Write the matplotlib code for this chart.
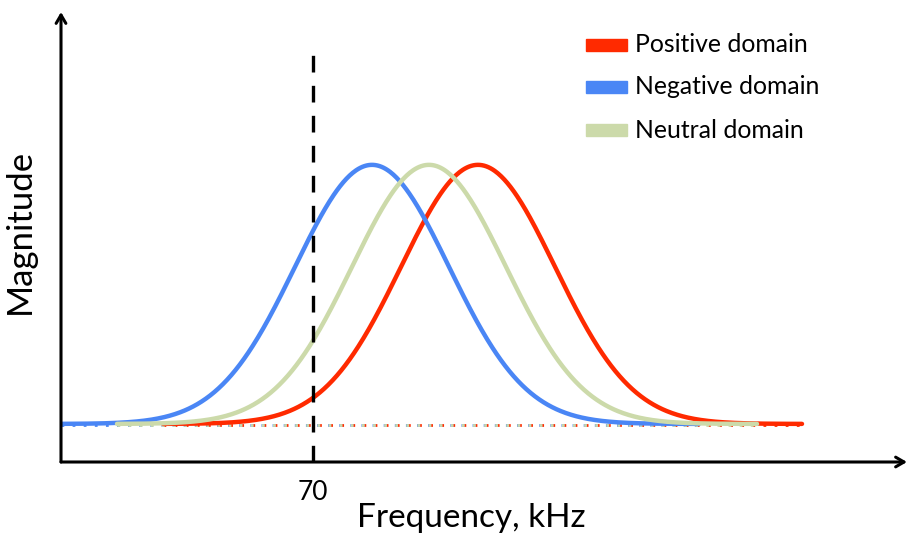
import numpy as np
import matplotlib
matplotlib.use("Agg")
import matplotlib.pyplot as plt
from matplotlib.patches import Rectangle

# Domain response curves: Gaussian shapes given by centre frequency and width (kHz)
domains = ["Positive domain", "Negative domain", "Neutral domain"]
colors = ["#FF2A00", "#4A86F5", "#CCDAAA"]
centers = [78.25, 72.95, 75.8]
widths = [3.85, 3.85, 3.85]
peaks = [1.0, 1.0, 1.0]
f_start = [62.5, 57.4, 60.2]
f_end = [94.45, 89.3, 92.2]
draw_order = [1, 2, 3]

marker_freq = 70
x_limits = (57.4, 99.7)
y_limits = (-0.147, 1.59)
marker_top = 1.43

W, H = 909, 542
fig = plt.figure(figsize=(W / 100, H / 100), dpi=100)
plt.rcParams["font.family"] = ["Lato", "DejaVu Sans"]

ax = fig.add_axes([61 / W, 1 - 462 / H, (907 - 61) / W, (462 - 12) / H])
ax.set_xlim(*x_limits)
ax.set_ylim(*y_limits)
for s in ax.spines.values():
    s.set_visible(False)
ax.set_xticks([])
ax.set_yticks([])

for name, c, mu, sd, a, f0, f1, z in zip(domains, colors, centers, widths, peaks,
                                        f_start, f_end, draw_order):
    f = np.linspace(f0, f1, 600)
    m = a * np.exp(-0.5 * ((f - mu) / sd) ** 2)
    ax.plot(f, m, color=c, lw=3.2, solid_capstyle="round", zorder=2 + z)
    ax.plot([f0, f1], [-0.006, -0.006], color=c, lw=2.0, ls=(0, (1, 3)),
            zorder=1 + z * 0.1)

# Dashed marker at the reference frequency
ax.plot([marker_freq, marker_freq], [y_limits[0], marker_top], color="black",
        lw=2.4, ls=(0, (5, 4)), zorder=10)

# Axes drawn as arrows
arrow_kw = dict(arrowstyle="->,head_length=0.6,head_width=0.35", lw=2.2,
                color="black", shrinkA=0, shrinkB=0)
ax.annotate("", xy=(1, 0), xytext=(0, 0), xycoords="axes fraction",
            arrowprops=arrow_kw, annotation_clip=False, zorder=11)
ax.annotate("", xy=(0, 1), xytext=(0, 0), xycoords="axes fraction",
            arrowprops=arrow_kw, annotation_clip=False, zorder=11)

ax.text(marker_freq, -0.04, str(marker_freq), transform=ax.get_xaxis_transform(),
        ha="center", va="top", fontsize=19)
fig.text(471 / W, 1 - 527 / H, "Frequency, kHz", ha="center", va="baseline",
         fontsize=24)
fig.text(20 / W, 1 - 231 / H, "Magnitude", ha="center", va="center",
         rotation=90, fontsize=25)

# Legend drawn as colour swatches with labels
leg_rows = [45, 87, 130]
for name, c, yp in zip(domains, colors, leg_rows):
    fig.patches.append(Rectangle((586 / W, 1 - (yp + 6) / H), 41 / W, 12 / H,
                                 transform=fig.transFigure, color=c, figure=fig))
    fig.text(635 / W, 1 - yp / H, name, ha="left", va="center", fontsize=17.8)

fig.savefig("out.png", dpi=100)
